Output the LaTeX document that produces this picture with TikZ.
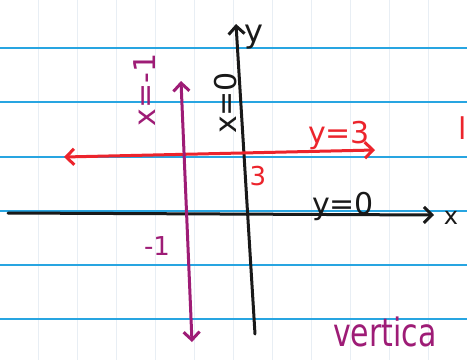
\documentclass[tikz,border=0pt]{standalone}
\usetikzlibrary{arrows.meta}
\usepackage{fontspec}
\setmainfont{DejaVu Sans}
\definecolor{penred}{RGB}{236,36,44}
\definecolor{penpurple}{RGB}{158,28,118}
\definecolor{penblack}{RGB}{25,25,25}
\definecolor{ruleblue}{RGB}{40,165,225}
\definecolor{faintgrid}{RGB}{232,238,244}
\tikzset{
  pen/.style={line width=3pt, line cap=round},
  lbl/.style={inner sep=0pt, font=\fontsize{26}{26}\selectfont},
  rulel/.style={ruleblue, line width=1.6pt},
  gridl/.style={faintgrid, line width=0.8pt}
}
\begin{document}
\begin{tikzpicture}[x=1pt,y=-1pt]
\useasboundingbox (0,0) rectangle (467,360);
\clip (0,0) rectangle (467,360);
\fill[white] (0,0) rectangle (467,360);
% faint grid
\foreach \gx in {38,77,116,155,194,233,272,311,350,389,428} \draw[gridl] (\gx,0) -- (\gx,360);
% ruled lines
\foreach \ry in {48,102,157,211,265,319} \draw[rulel] (0,\ry) -- (467,\ry);
% coordinates
\coordinate (ytop) at (236,24);
\coordinate (ybot) at (255,334);
\coordinate (xl) at (8,213);
\coordinate (xr) at (434,215);
\coordinate (rl) at (64,157);
\coordinate (rr) at (375,150);
\coordinate (pt) at (181,81);
\coordinate (pb) at (192,342);
% axes
\draw[pen, penblack, -{Straight Barb[length=8pt,width=16pt]}] (ybot) -- (ytop);
\draw[pen, penblack, -{Straight Barb[length=8pt,width=16pt]}] (xl) -- (xr);
% red line y=3
\draw[pen, penred, {Straight Barb[length=8pt,width=16pt]}-{Straight Barb[length=8pt,width=16pt]}] (rl) -- (rr);
% purple line x=-1
\draw[pen, penpurple, {Straight Barb[length=8pt,width=16pt]}-{Straight Barb[length=8pt,width=16pt]}] (pt) -- (pb);
% labels
\node[lbl, penblack, anchor=base, font=\fontsize{32}{32}\selectfont] (ylab) at (254,42) {y};
\node[lbl, penblack, font=\fontsize{24}{24}\selectfont] (xlab) at (451,218) {x};
\node[lbl, penblack, anchor=base, font=\fontsize{30}{30}\selectfont] (y0) at (343,214) {y=0};
\node[lbl, penblack, rotate=90, font=\fontsize{30}{30}\selectfont] (x0) at (226,103) {x=0};
\node[lbl, penred, anchor=base, font=\fontsize{30}{30}\selectfont] (y3) at (339,143) {y=3};
\node[lbl, penred, font=\fontsize{26}{26}\selectfont] (three) at (258,176) {3};
\node[lbl, penpurple, rotate=90, font=\fontsize{30}{30}\selectfont] (xm1) at (145,90) {x=-1};
\node[lbl, penpurple, font=\fontsize{26}{26}\selectfont] (m1) at (157,246) {-1};
\node[lbl, penpurple, anchor=base west, font=\fontsize{30}{30}\selectfont, yscale=1.3] (vert) at (333,346) {vertica};
\node[lbl, penred, font=\fontsize{30}{30}\selectfont] (horiz) at (463,128) {l};
\end{tikzpicture}
\end{document}
